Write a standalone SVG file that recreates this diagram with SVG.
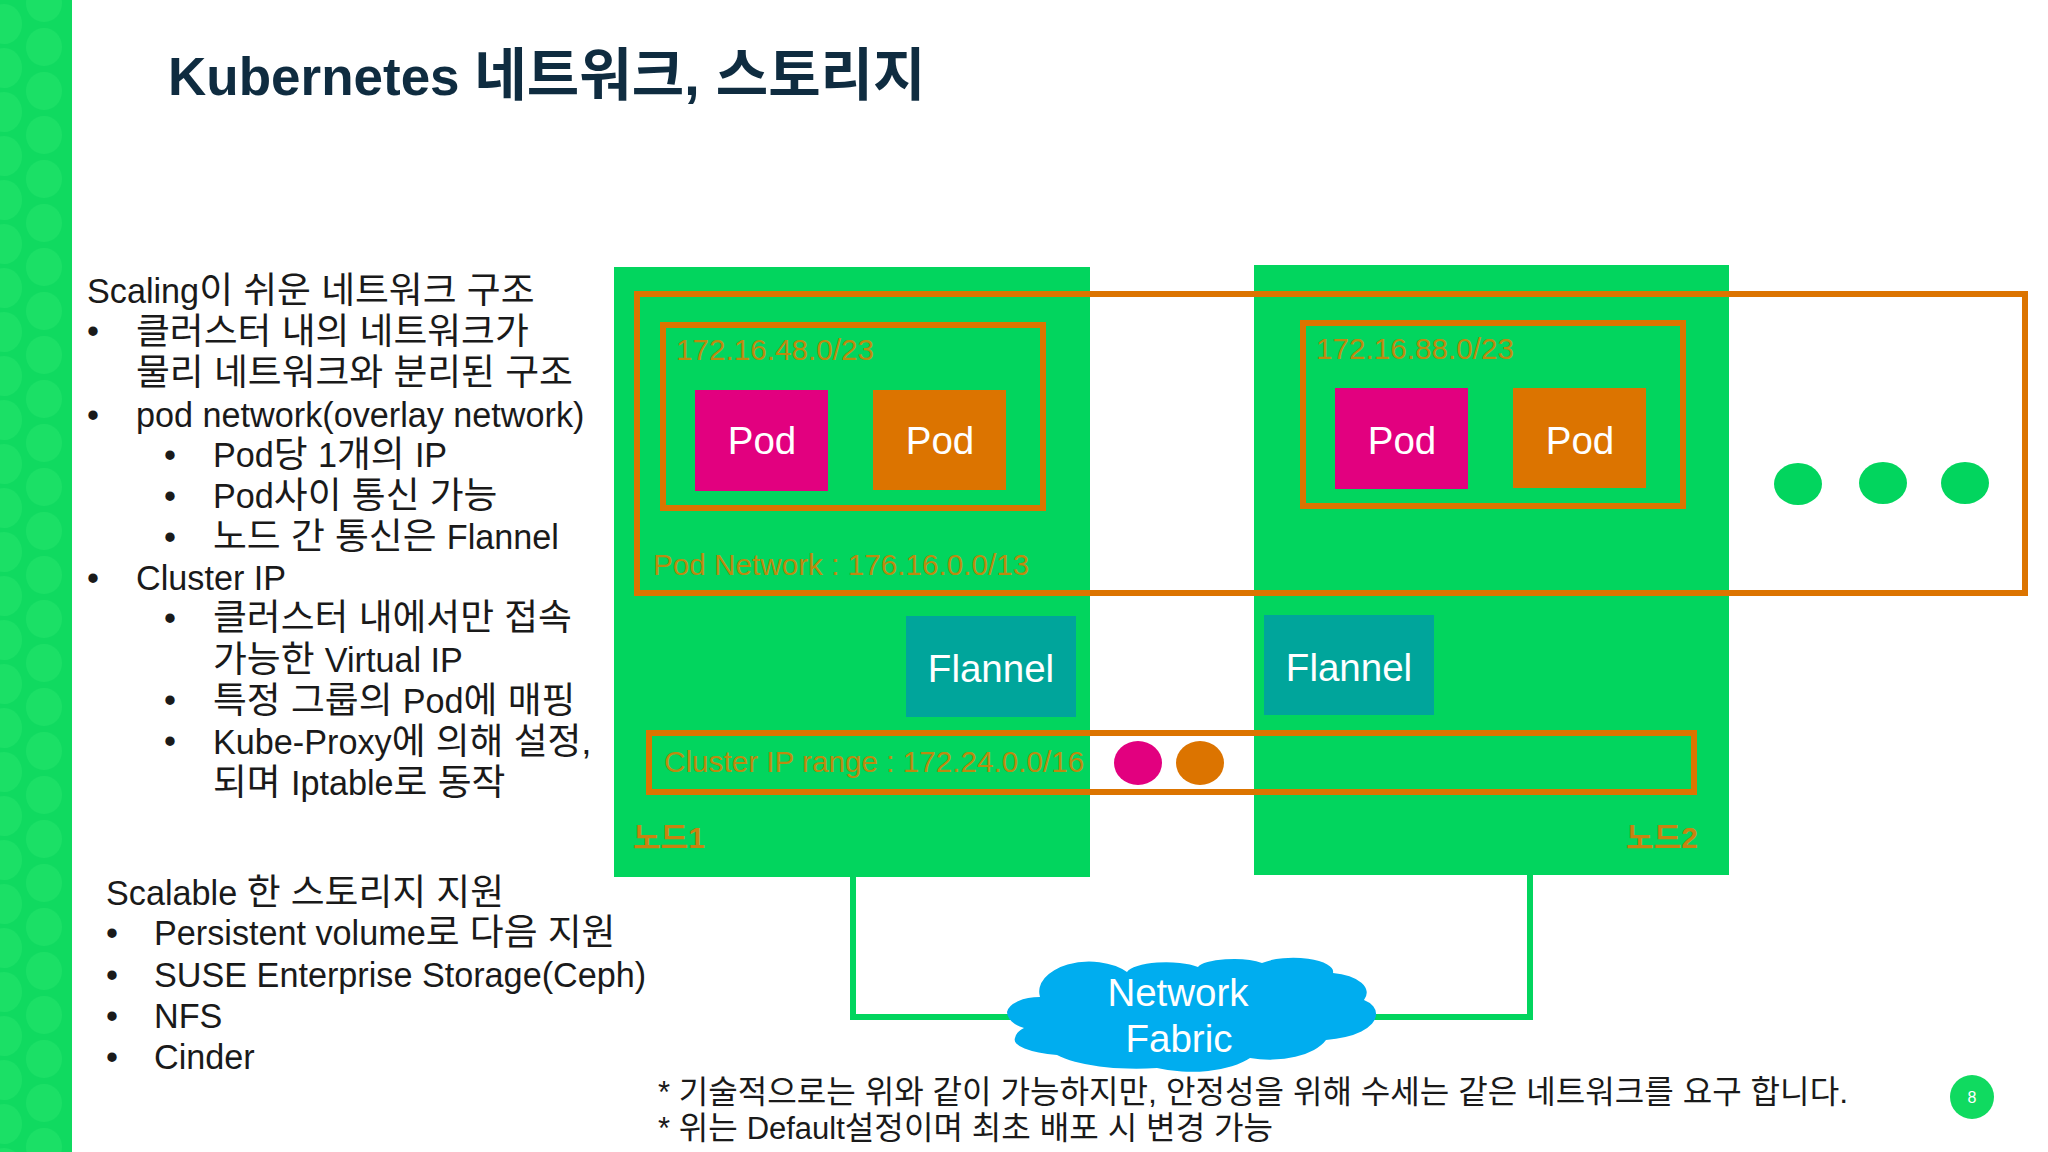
<svg xmlns="http://www.w3.org/2000/svg" width="2048" height="1152" viewBox="0 0 2048 1152">
<style>
text{font-family:"Liberation Sans","Noto Sans CJK KR",sans-serif}
.t{font-size:34.2px;fill:#1a1a1a}
.k{font-size:36.8px}
.f{font-size:31px;fill:#1a1a1a}
.fk{font-size:32.1px}
.w{font-size:38.5px;fill:#fff;text-anchor:middle}
.o{font-size:29.7px;fill:#BC8A10}
.n{font-size:30px;fill:#C98210;font-weight:bold}
.box{fill:none;stroke:#DC7400;stroke-width:6}
.node{fill:#02D55E}
.flannel{fill:#00A59B}
.pk{fill:#E2007F}
.or{fill:#DC7400}
.dot{fill:#02D55E}
.wire{fill:none;stroke:#02D55E;stroke-width:6}
</style>
<defs>
<pattern id="blobs" width="72" height="88" patternUnits="userSpaceOnUse">
<ellipse cx="44" cy="47" rx="18" ry="19" fill="#1BE066"/>
<ellipse cx="44" cy="3" rx="18" ry="19" fill="#1BE066"/>
<ellipse cx="44" cy="91" rx="18" ry="19" fill="#1BE066"/>
<ellipse cx="4" cy="24" rx="18" ry="20" fill="#1BE066"/>
<ellipse cx="4" cy="68" rx="18" ry="20" fill="#1BE066"/>
</pattern>
</defs>
<rect width="2048" height="1152" fill="#fff"/>
<rect width="72" height="1152" fill="#10DA60"/>
<rect width="72" height="1152" fill="url(#blobs)"/>
<text x="168" y="95" font-size="53" font-weight="bold" fill="#0F2C40">Kubernetes <tspan font-size="57">네트워크, 스토리지</tspan></text>

<g id="left-text">
<text class="t" x="87" y="303">Scaling<tspan class="k">이 쉬운 네트워크 구조</tspan></text>
<text class="t" x="87" y="343">•</text><text class="t" x="136" y="344"><tspan class="k">클러스터 내의 네트워크가</tspan></text>
<text class="t" x="136" y="385"><tspan class="k">물리 네트워크와 분리된 구조</tspan></text>
<text class="t" x="87" y="427">•</text><text class="t" x="136" y="427">pod network(overlay network)</text>
<text class="t" x="164" y="467">•</text><text class="t" x="213" y="467">Pod<tspan class="k">당 </tspan>1<tspan class="k">개의 </tspan>IP</text>
<text class="t" x="164" y="508">•</text><text class="t" x="213" y="508">Pod<tspan class="k">사이 통신 가능</tspan></text>
<text class="t" x="164" y="549">•</text><text class="t" x="213" y="549"><tspan class="k">노드 간 통신은 </tspan>Flannel</text>
<text class="t" x="87" y="590">•</text><text class="t" x="136" y="590">Cluster IP</text>
<text class="t" x="164" y="630">•</text><text class="t" x="213" y="630"><tspan class="k">클러스터 내에서만 접속</tspan></text>
<text class="t" x="213" y="672"><tspan class="k">가능한 </tspan>Virtual IP</text>
<text class="t" x="164" y="712">•</text><text class="t" x="213" y="713"><tspan class="k">특정 그룹의 </tspan>Pod<tspan class="k">에 매핑</tspan></text>
<text class="t" x="164" y="753">•</text><text class="t" x="213" y="754">Kube-Proxy<tspan class="k">에 의해 설정,</tspan></text>
<text class="t" x="213" y="795"><tspan class="k">되며 </tspan>Iptable<tspan class="k">로 동작</tspan></text>
<text class="t" x="106" y="905">Scalable <tspan class="k">한 스토리지 지원</tspan></text>
<text class="t" x="106" y="945">•</text><text class="t" x="154" y="945">Persistent volume<tspan class="k">로 다음 지원</tspan></text>
<text class="t" x="106" y="987">•</text><text class="t" x="154" y="987">SUSE Enterprise Storage(Ceph)</text>
<text class="t" x="106" y="1028">•</text><text class="t" x="154" y="1028">NFS</text>
<text class="t" x="106" y="1069">•</text><text class="t" x="154" y="1069">Cinder</text>
</g>

<g id="connectors">
<path class="wire" d="M853 877V1017H1020"/>
<path class="wire" d="M1530 875V1017H1360"/>
</g>

<g id="node1">
<rect class="node" x="614" y="267" width="476" height="610"/>
<rect class="box" x="663" y="325" width="380" height="183"/>
<text class="o" x="676" y="360">172.16.48.0/23</text>
<text class="o" x="653" y="575">Pod Network : 176.16.0.0/13</text>
<text class="o" x="664" y="772">Cluster IP range : 172.24.0.0/16</text>
<text class="n" x="633" y="848">노드1</text>
</g>
<g id="node2">
<rect class="node" x="1254" y="265" width="475" height="610"/>
<rect class="box" x="1303" y="323" width="380" height="183"/>
<text class="o" x="1316" y="359">172.16.88.0/23</text>
<text class="n" x="1698" y="848" text-anchor="end">노드2</text>
</g>
<g id="pod-network"><rect class="box" x="637" y="294" width="1388" height="299"/></g>
<g id="cluster-ip"><rect class="box" x="649" y="733" width="1045" height="59"/></g>
<g id="pod1"><rect class="pk" x="695" y="390" width="133" height="101"/><text class="w" x="762" y="454">Pod</text></g>
<g id="pod2"><rect class="or" x="873" y="390" width="133" height="100"/><text class="w" x="940" y="454">Pod</text></g>
<g id="pod3"><rect class="pk" x="1335" y="388" width="133" height="101"/><text class="w" x="1402" y="454">Pod</text></g>
<g id="pod4"><rect class="or" x="1513" y="388" width="133" height="100"/><text class="w" x="1580" y="454">Pod</text></g>
<g id="flannel1"><rect class="flannel" x="906" y="616" width="170" height="101"/><text class="w" x="991" y="682">Flannel</text></g>
<g id="flannel2"><rect class="flannel" x="1264" y="615" width="170" height="100"/><text class="w" x="1349" y="681">Flannel</text></g>
<g id="dots">
<ellipse class="dot" cx="1798" cy="484" rx="24" ry="21"/>
<ellipse class="dot" cx="1883" cy="483" rx="24" ry="21"/>
<ellipse class="dot" cx="1965" cy="483" rx="24" ry="21"/>
<ellipse class="pk" cx="1138" cy="763" rx="24" ry="22"/>
<ellipse class="or" cx="1200" cy="763" rx="24" ry="22"/>
</g>
<g id="cloud">
<path fill="#00ADEF" d="M1007 1012A33 17 0 0 1 1040 997A50 30 0 0 1 1127 972A40 12 0 0 1 1198 967A36 10 0 0 1 1262 963A40 14 0 0 1 1333 973A40 20 0 0 1 1364 1000A24 16 0 0 1 1376 1015A60 26 0 0 1 1326 1040A60 30 0 0 1 1250 1058A70 30 0 0 1 1157 1068A90 26 0 0 1 1057 1055A60 16 0 0 1 1015 1038A30 16 0 0 1 1024 1028A30 18 0 0 1 1007 1012Z"/>
<text class="w" x="1178" y="1006">Network</text>
<text class="w" x="1179" y="1052">Fabric</text>
</g>
<g id="notes">
<text class="f" x="658" y="1103">* <tspan class="fk">기술적으로는 위와 같이 가능하지만, 안정성을 위해 수세는 같은 네트워크를 요구 합니다.</tspan></text>
<text class="f" x="658" y="1139">* <tspan class="fk">위는 </tspan>Default<tspan class="fk">설정이며 최초 배포 시 변경 가능</tspan></text>
</g>
<g id="page"><circle cx="1972" cy="1097" r="22" fill="#10DA60"/><text x="1972" y="1103" font-size="16" fill="#fff" text-anchor="middle">8</text></g>
</svg>
